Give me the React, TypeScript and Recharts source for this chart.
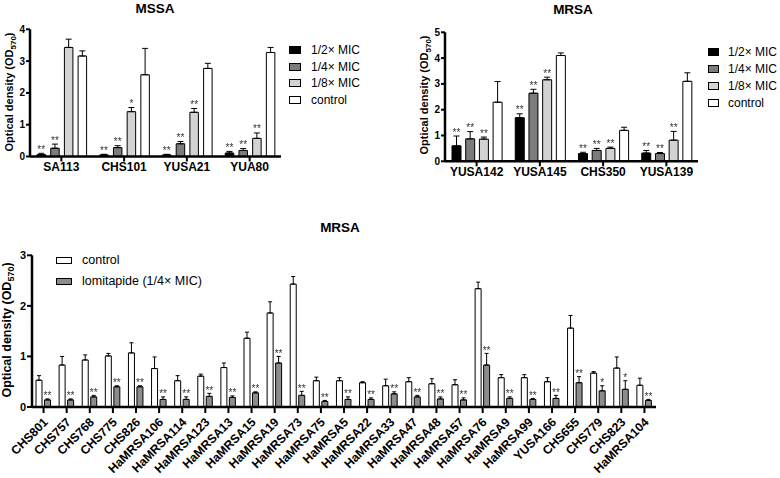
import React from 'react';
import { BarChart, Bar, XAxis, YAxis, ErrorBar, LabelList, Legend } from 'recharts';

const FONT = 'Arial, "Liberation Sans", Helvetica, sans-serif';

// ---------- MSSA (top left) ----------
const mssaStrains = ['SA113', 'CHS101', 'YUSA21', 'YUA80'];
const mssaHalf = [0.06, 0.05, 0.05, 0.11];
const mssaHalfErr = [0.04, 0.02, 0.02, 0.05];
const mssaQuarter = [0.26, 0.28, 0.4, 0.19];
const mssaQuarterErr = [0.13, 0.06, 0.07, 0.06];
const mssaEighth = [3.43, 1.41, 1.39, 0.57];
const mssaEighthErr = [0.26, 0.13, 0.12, 0.17];
const mssaControl = [3.16, 2.57, 2.77, 3.27];
const mssaControlErr = [0.16, 0.83, 0.16, 0.16];
const mssaHalfSig = ['**', '**', '**', '**'];
const mssaQuarterSig = ['**', '**', '**', '**'];
const mssaEighthSig = ['', '*', '**', '**'];
const mssaTicks = [0, 1, 2, 3, 4];

// ---------- MRSA (top right) ----------
const mrsaStrains = ['YUSA142', 'YUSA145', 'CHS350', 'YUSA139'];
const mrsaHalf = [0.6, 1.69, 0.3, 0.32];
const mrsaHalfErr = [0.38, 0.15, 0.05, 0.1];
const mrsaQuarter = [0.87, 2.64, 0.42, 0.3];
const mrsaQuarterErr = [0.28, 0.15, 0.08, 0.04];
const mrsaEighth = [0.86, 3.16, 0.5, 0.82];
const mrsaEighthErr = [0.08, 0.1, 0.05, 0.34];
const mrsaControl = [2.29, 4.1, 1.2, 3.1];
const mrsaControlErr = [0.8, 0.1, 0.12, 0.33];
const mrsaHalfSig = ['**', '**', '**', '**'];
const mrsaQuarterSig = ['**', '**', '**', '**'];
const mrsaEighthSig = ['**', '**', '**', '**'];
const mrsaTicks = [0, 1, 2, 3, 4, 5];

// ---------- MRSA lomitapide (bottom) ----------
const lomiStrains = [
  'CHS801', 'CHS757', 'CHS768', 'CHS775', 'CHS826', 'HaMRSA106', 'HaMRSA114', 'HaMRSA123',
  'HaMRSA13', 'HaMRSA15', 'HaMRSA19', 'HaMRSA73', 'HaMRSA75', 'HaMRSA5', 'HaMRSA22', 'HaMRSA33',
  'HaMRSA47', 'HaMRSA48', 'HaMRSA57', 'HaMRSA76', 'HaMRSA9', 'HaMRSA99', 'YUSA166', 'CHS655',
  'CHS779', 'CHS823', 'HaMRSA104',
];
const lomiControl = [0.53, 0.83, 0.93, 1.01, 1.07, 0.76, 0.52, 0.61, 0.78, 1.36, 1.86, 2.43, 0.52, 0.52, 0.48, 0.42, 0.5, 0.46, 0.44, 2.34, 0.58, 0.58, 0.5, 1.56, 0.67, 0.77, 0.43];
const lomiControlErr = [0.09, 0.17, 0.1, 0.05, 0.2, 0.23, 0.1, 0.04, 0.09, 0.12, 0.22, 0.15, 0.07, 0.06, 0.02, 0.13, 0.08, 0.1, 0.1, 0.13, 0.06, 0.06, 0.08, 0.25, 0.03, 0.22, 0.14];
const lomiTreated = [0.14, 0.14, 0.2, 0.4, 0.4, 0.15, 0.15, 0.21, 0.19, 0.28, 0.87, 0.23, 0.11, 0.15, 0.15, 0.26, 0.2, 0.16, 0.14, 0.83, 0.17, 0.15, 0.17, 0.48, 0.32, 0.35, 0.13];
const lomiTreatedErr = [0.02, 0.02, 0.03, 0.02, 0.02, 0.05, 0.05, 0.06, 0.03, 0.02, 0.13, 0.08, 0.02, 0.05, 0.03, 0.04, 0.03, 0.04, 0.04, 0.23, 0.03, 0.02, 0.06, 0.12, 0.1, 0.17, 0.02];
const lomiSig = ['**', '**', '**', '**', '**', '**', '**', '**', '**', '**', '**', '**', '**', '**', '**', '**', '**', '**', '**', '**', '**', '**', '**', '**', '*', '*', '**'];
const lomiTicks = [0, 1, 2, 3];

// ---------- labels / legends ----------
const titleMSSA = 'MSSA';
const titleMRSA = 'MRSA';
const mssaLegend = [
  { label: '1/2× MIC', fill: '#000000' },
  { label: '1/4× MIC', fill: '#7c7c7c' },
  { label: '1/8× MIC', fill: '#d3d3d3' },
  { label: 'control', fill: '#ffffff' },
];
const lomiLegend = [
  { label: 'control', fill: '#ffffff' },
  { label: 'lomitapide (1/4× MIC)', fill: '#8c8c8c' },
];

const mssaData = mssaStrains.map((name, i) => ({
  name,
  half: mssaHalf[i], halfErr: [0, mssaHalfErr[i]],
  quarter: mssaQuarter[i], quarterErr: [0, mssaQuarterErr[i]],
  eighth: mssaEighth[i], eighthErr: [0, mssaEighthErr[i]],
  control: mssaControl[i], controlErr: [0, mssaControlErr[i]],
}));
const mrsaData = mrsaStrains.map((name, i) => ({
  name,
  half: mrsaHalf[i], halfErr: [0, mrsaHalfErr[i]],
  quarter: mrsaQuarter[i], quarterErr: [0, mrsaQuarterErr[i]],
  eighth: mrsaEighth[i], eighthErr: [0, mrsaEighthErr[i]],
  control: mrsaControl[i], controlErr: [0, mrsaControlErr[i]],
}));
const lomiData = lomiStrains.map((name, i) => ({
  name,
  control: lomiControl[i], controlErr: [0, lomiControlErr[i]],
  treated: lomiTreated[i], treatedErr: [0, lomiTreatedErr[i]],
}));

const sigLabel = (sigs: string[], errs: number[], fontSize: number, lift: number) => (props: any) => {
  const { x, y, width, height, index, value } = props;
  const s = sigs[index];
  if (!s) return null;
  const v = Number(value);
  const h = Number(height);
  const ppu = v > 0 ? h / v : 0;
  const top = Number(y) - errs[index] * ppu;
  const cx = Number(x) + Number(width) / 2;
  const ty = top - lift;
  return (
    <text x={cx} y={ty} textAnchor="middle" fontSize={fontSize} fontFamily={FONT} fill="#333" style={{ filter: 'grayscale(1)' }}>
      {s}
    </text>
  );
};

const yLabel = (cx: number, cy: number, fs: number, sub: number) => () => (
  <text
    x={cx}
    y={cy}
    transform={`rotate(-90, ${cx}, ${cy})`}
    textAnchor="middle"
    fontFamily={FONT}
    fontSize={fs}
    fontWeight="bold"
    fill="#000"
  >
    Optical density (OD
    <tspan fontSize={sub} dy={3}>570</tspan>
    <tspan dy={-3}>)</tspan>
  </text>
);

const RotTick = (props: any) => {
  const { x, y, payload } = props;
  return (
    <g transform={`translate(${Number(x) + 5}, ${Number(y) + 8})`}>
      <text x={0} y={0} textAnchor="end" transform="rotate(-45)" fontFamily={FONT} fontSize={12.2} fontWeight="bold" fill="#000">
        {payload.value}
      </text>
    </g>
  );
};

const TopLegend = ({ rowH, swW, swH, gap, fs }: any) => (
  <div style={{ fontFamily: FONT, fontSize: fs, color: '#000' }}>
    {mssaLegend.map((it) => (
      <div key={it.label} style={{ display: 'flex', alignItems: 'center', height: rowH, whiteSpace: 'nowrap' }}>
        <span style={{ display: 'inline-block', width: swW, height: swH, border: '1px solid #000', background: it.fill, boxSizing: 'border-box', marginRight: gap }} />
        <span>{it.label}</span>
      </div>
    ))}
  </div>
);

const BottomLegend = () => (
  <div style={{ fontFamily: FONT, fontSize: 12.5, color: '#000' }}>
    {lomiLegend.map((it) => (
      <div key={it.label} style={{ display: 'flex', alignItems: 'center', height: 21, whiteSpace: 'nowrap' }}>
        <span style={{ display: 'inline-block', width: 16, height: 7, border: '1px solid #000', background: it.fill, boxSizing: 'border-box', marginRight: 10 }} />
        <span>{it.label}</span>
      </div>
    ))}
  </div>
);

const axisStyle = { stroke: '#000', strokeWidth: 2.5 };
const tickLineStyle = { stroke: '#000', strokeWidth: 2 };

const Title = ({ text, cx, cy }: { text: string; cx: number; cy: number }) => (
  <div
    style={{
      position: 'absolute', left: cx - 50, top: cy - 8, width: 100, height: 16, lineHeight: '16px',
      textAlign: 'center', fontFamily: FONT, fontSize: 13.5, fontWeight: 'bold', color: '#000',
    }}
  >
    {text}
  </div>
);

export default function App() {
  return (
    <div style={{ position: 'absolute', left: 0, top: 0, width: 780, height: 478, background: '#fff', overflow: 'hidden' }}>
      <Title text={titleMSSA} cx={155} cy={9} />
      <Title text={titleMRSA} cx={573} cy={10} />
      <Title text={titleMRSA} cx={340} cy={228} />

      {/* MSSA */}
      <div style={{ position: 'absolute', left: 0, top: 0 }}>
        <BarChart
          width={380}
          height={220}
          data={mssaData}
          margin={{ top: 29.3, right: 99, bottom: 33.5, left: 5 }}
          barSize={8.5}
          barGap={5.2}
        >
          <XAxis dataKey="name" axisLine={axisStyle} tickLine={tickLineStyle} tickSize={5} tickMargin={1}
            tick={{ fill: '#000', fontSize: 12, fontWeight: 'bold', fontFamily: FONT }} interval={0} height={30} />
          <YAxis domain={[0, 4]} ticks={mssaTicks} width={25} axisLine={axisStyle} tickLine={tickLineStyle} tickSize={4} tickMargin={1}
            tick={{ fill: '#000', fontSize: 10, fontWeight: 'bold', fontFamily: FONT }}
            label={{ content: yLabel(13, 92, 11, 8) }} />
          <Legend layout="vertical" align="center" verticalAlign="middle"
            wrapperStyle={{ left: 289, top: 41.7, width: 90, height: 70 }}
            content={() => <TopLegend rowH={16.7} swW={12} swH={8} gap={10} fs={12} />} />
          <Bar dataKey="half" fill="#000000" stroke="#000" strokeWidth={1} isAnimationActive={false}>
            <ErrorBar dataKey="halfErr" width={3} stroke="#000" strokeWidth={1} direction="y" />
            <LabelList dataKey="half" content={sigLabel(mssaHalfSig, mssaHalfErr, 10, 0.5)} />
          </Bar>
          <Bar dataKey="quarter" fill="#7c7c7c" stroke="#000" strokeWidth={1} isAnimationActive={false}>
            <ErrorBar dataKey="quarterErr" width={3} stroke="#000" strokeWidth={1} direction="y" />
            <LabelList dataKey="quarter" content={sigLabel(mssaQuarterSig, mssaQuarterErr, 10, 0.5)} />
          </Bar>
          <Bar dataKey="eighth" fill="#d3d3d3" stroke="#000" strokeWidth={1} isAnimationActive={false}>
            <ErrorBar dataKey="eighthErr" width={3} stroke="#000" strokeWidth={1} direction="y" />
            <LabelList dataKey="eighth" content={sigLabel(mssaEighthSig, mssaEighthErr, 10, 0.5)} />
          </Bar>
          <Bar dataKey="control" fill="#ffffff" stroke="#000" strokeWidth={1} isAnimationActive={false}>
            <ErrorBar dataKey="controlErr" width={3} stroke="#000" strokeWidth={1} direction="y" />
          </Bar>
        </BarChart>
      </div>

      {/* MRSA top */}
      <div style={{ position: 'absolute', left: 380, top: 0 }}>
        <BarChart
          width={400}
          height={220}
          data={mrsaData}
          margin={{ top: 32.3, right: 82, bottom: 28.7, left: 40 }}
          barSize={9}
          barGap={4.7}
        >
          <XAxis dataKey="name" axisLine={axisStyle} tickLine={tickLineStyle} tickSize={5} tickMargin={1}
            tick={{ fill: '#000', fontSize: 12, fontWeight: 'bold', fontFamily: FONT }} interval={0} height={30} />
          <YAxis domain={[0, 5]} ticks={mrsaTicks} width={25} axisLine={axisStyle} tickLine={tickLineStyle} tickSize={4} tickMargin={1}
            tick={{ fill: '#000', fontSize: 10, fontWeight: 'bold', fontFamily: FONT }}
            label={{ content: yLabel(48, 95, 11, 8) }} />
          <Legend layout="vertical" align="center" verticalAlign="middle"
            wrapperStyle={{ left: 328, top: 43.5, width: 72, height: 70 }}
            content={() => <TopLegend rowH={17} swW={11} swH={8} gap={9} fs={12} />} />
          <Bar dataKey="half" fill="#000000" stroke="#000" strokeWidth={1} isAnimationActive={false}>
            <ErrorBar dataKey="halfErr" width={3} stroke="#000" strokeWidth={1} direction="y" />
            <LabelList dataKey="half" content={sigLabel(mrsaHalfSig, mrsaHalfErr, 10, 0.5)} />
          </Bar>
          <Bar dataKey="quarter" fill="#7c7c7c" stroke="#000" strokeWidth={1} isAnimationActive={false}>
            <ErrorBar dataKey="quarterErr" width={3} stroke="#000" strokeWidth={1} direction="y" />
            <LabelList dataKey="quarter" content={sigLabel(mrsaQuarterSig, mrsaQuarterErr, 10, 0.5)} />
          </Bar>
          <Bar dataKey="eighth" fill="#d3d3d3" stroke="#000" strokeWidth={1} isAnimationActive={false}>
            <ErrorBar dataKey="eighthErr" width={3} stroke="#000" strokeWidth={1} direction="y" />
            <LabelList dataKey="eighth" content={sigLabel(mrsaEighthSig, mrsaEighthErr, 10, 0.5)} />
          </Bar>
          <Bar dataKey="control" fill="#ffffff" stroke="#000" strokeWidth={1} isAnimationActive={false}>
            <ErrorBar dataKey="controlErr" width={3} stroke="#000" strokeWidth={1} direction="y" />
          </Bar>
        </BarChart>
      </div>

      {/* MRSA lomitapide bottom */}
      <div style={{ position: 'absolute', left: 0, top: 210 }}>
        <BarChart
          width={780}
          height={268}
          data={lomiData}
          margin={{ top: 45.3, right: 124, bottom: 3, left: 7 }}
          barSize={6}
          barGap={2.5}
        >
          <XAxis dataKey="name" axisLine={axisStyle} tickLine={tickLineStyle} tickSize={6} tickMargin={2}
            tick={<RotTick />} interval={0} height={68} />
          <YAxis domain={[0, 3]} ticks={lomiTicks} width={25} axisLine={axisStyle} tickLine={tickLineStyle} tickSize={5} tickMargin={1}
            tick={{ fill: '#000', fontSize: 11, fontWeight: 'bold', fontFamily: FONT }}
            label={{ content: yLabel(11, 120, 12.5, 9) }} />
          <Legend layout="vertical" align="center" verticalAlign="middle"
            wrapperStyle={{ left: 56, top: 39.5, width: 200, height: 42 }}
            content={() => <BottomLegend />} />
          <Bar dataKey="control" fill="#ffffff" stroke="#000" strokeWidth={1} isAnimationActive={false}>
            <ErrorBar dataKey="controlErr" width={2} stroke="#000" strokeWidth={1} direction="y" />
          </Bar>
          <Bar dataKey="treated" fill="#8c8c8c" stroke="#000" strokeWidth={1} isAnimationActive={false}>
            <ErrorBar dataKey="treatedErr" width={2} stroke="#000" strokeWidth={1} direction="y" />
            <LabelList dataKey="treated" content={sigLabel(lomiSig, lomiTreatedErr, 10, -0.5)} />
          </Bar>
        </BarChart>
      </div>
    </div>
  );
}
